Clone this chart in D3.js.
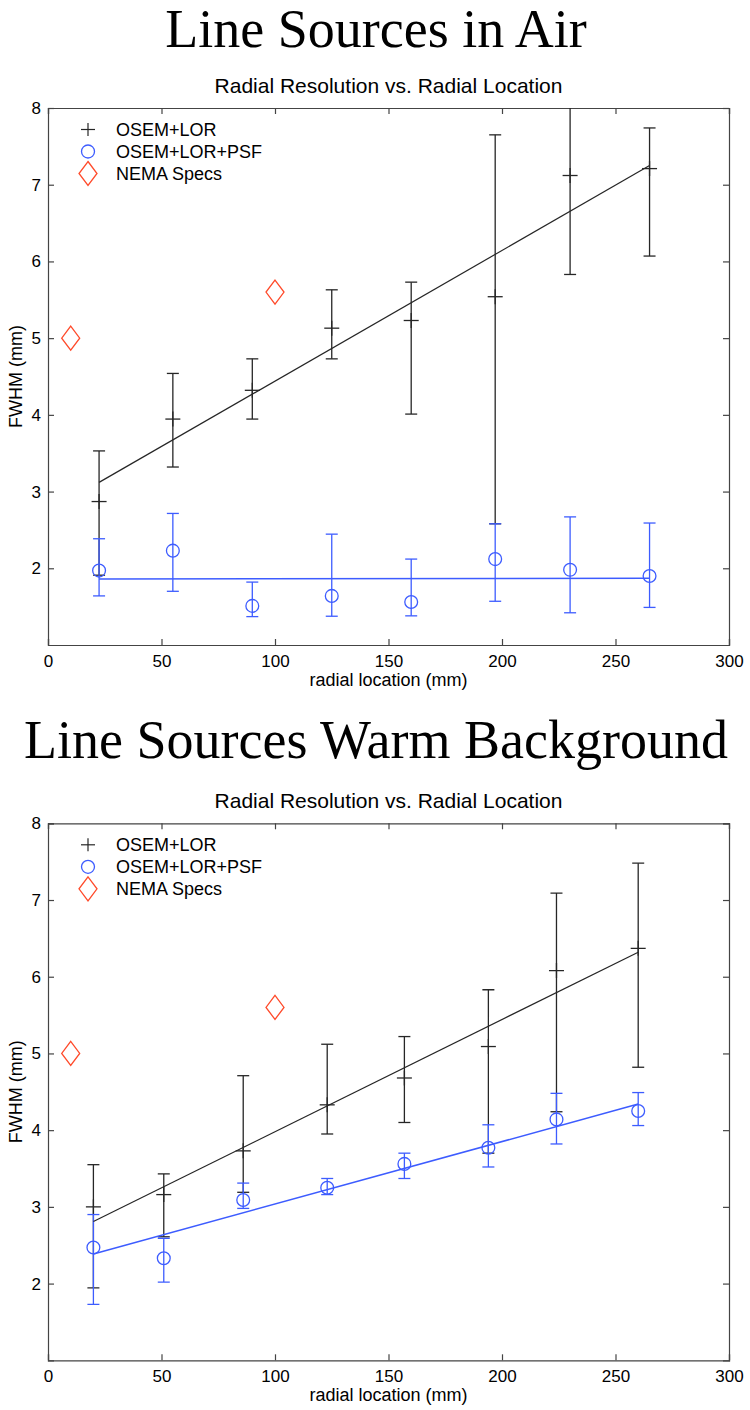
<!DOCTYPE html>
<html>
<head>
<meta charset="utf-8">
<script src="https://cdn.jsdelivr.net/npm/d3@7/dist/d3.min.js"></script>
<style>
  html, body { margin: 0; padding: 0; background: #fff; }
  svg { display: block; }
  text { font-family: "Liberation Sans", Arial, Helvetica, sans-serif; fill: #000; }
</style>
</head>
<body>
<svg id="chart" width="750" height="1410"></svg>
<script>
// ---------- data ----------
const xTicks = [0, 50, 100, 150, 200, 250, 300];
const yTicks = [2, 3, 4, 5, 6, 7, 8];
const legendLabels = ["OSEM+LOR", "OSEM+LOR+PSF", "NEMA Specs"];
const mainTitles = ["Line Sources in Air", "Line Sources Warm Background"];
const subTitle = "Radial Resolution vs. Radial Location";
const xLabel = "radial location (mm)";
const yLabel = "FWHM (mm)";

const nemaX = [10, 100];
const nemaY = [5.0, 5.6];

// Chart 1: line sources in air
const airX      = [22.5, 55, 90, 125, 160, 197, 230, 265];
const airLorY   = [2.87, 3.945, 4.32, 5.13, 5.23, 5.54, 7.12, 7.21];
const airLorLo  = [1.91, 3.32, 3.945, 4.73, 4.01, 2.58, 5.83, 6.07];
const airLorHi  = [3.53, 4.54, 4.73, 5.63, 5.73, 7.65, 8.41, 7.74];
const airPsfY   = [1.97, 2.23, 1.51, 1.64, 1.56, 2.12, 1.98, 1.90];
const airPsfLo  = [1.64, 1.70, 1.37, 1.375, 1.38, 1.57, 1.42, 1.49];
const airPsfHi  = [2.385, 2.715, 1.82, 2.445, 2.12, 2.58, 2.67, 2.59];
const airFitX   = [22.5, 265];
const airLorFit = [3.12, 7.25];
const airPsfFit = [1.86, 1.87];

// Chart 2: line sources, warm background
const warmX      = [20, 51, 86, 123, 157, 194, 224, 260];
const warmLorY   = [3.00, 3.16, 3.73, 4.33, 4.68, 5.09, 6.08, 6.37];
const warmLorLo  = [1.945, 2.61, 3.19, 3.95, 4.10, 3.70, 4.24, 4.82];
const warmLorHi  = [3.55, 3.43, 4.71, 5.12, 5.22, 5.83, 7.09, 7.48];
const warmPsfY   = [2.47, 2.33, 3.09, 3.25, 3.56, 3.77, 4.14, 4.25];
const warmPsfLo  = [1.73, 2.02, 2.98, 3.16, 3.37, 3.52, 3.82, 4.06];
const warmPsfHi  = [2.90, 2.59, 3.31, 3.37, 3.70, 4.07, 4.48, 4.49];
const warmFitX   = [20, 260];
const warmLorFit = [2.81, 6.32];
const warmPsfFit = [2.385, 4.34];

// ---------- style ----------
const BLACK = "#262626";
const BLUE = "#3d5cff";
const RED = "#ff4a2a";
const AXIS = "#444";

const svg = d3.select("#chart");

function drawChart(cfg) {
  const left = 48, right = 729;
  const top = cfg.top, bottom = cfg.top + 537;
  const x = d3.scaleLinear().domain([0, 300]).range([left, right]);
  const y = d3.scaleLinear().domain([1, 8]).range([bottom, top]);

  // main title
  svg.append("text")
    .attr("x", 376).attr("y", cfg.titleY)
    .attr("text-anchor", "middle")
    .style("font-family", "'Liberation Serif', 'Times New Roman', serif")
    .style("font-size", "54px")
    .text(cfg.title);

  // subtitle
  svg.append("text")
    .attr("x", (left + right) / 2).attr("y", top - 15)
    .attr("text-anchor", "middle")
    .style("font-size", "21px")
    .text(subTitle);

  const clipId = "clip" + cfg.id;
  svg.append("clipPath").attr("id", clipId)
    .append("rect").attr("x", left).attr("y", top).attr("width", right - left).attr("height", bottom - top);

  // axes (ticks inward, mirrored)
  const axB = d3.axisBottom(x).tickValues(xTicks).tickSize(-6).tickPadding(10).tickFormat(d3.format("d"));
  const axT = d3.axisTop(x).tickValues(xTicks).tickSize(-6).tickFormat("");
  const axL = d3.axisLeft(y).tickValues(yTicks).tickSize(-6).tickPadding(10).tickFormat(d3.format("d"));
  const axR = d3.axisRight(y).tickValues(yTicks).tickSize(-6).tickFormat("");

  const gB = svg.append("g").attr("transform", `translate(0,${bottom})`).call(axB);
  const gT = svg.append("g").attr("transform", `translate(0,${top})`).call(axT);
  const gL = svg.append("g").attr("transform", `translate(${left},0)`).call(axL);
  const gR = svg.append("g").attr("transform", `translate(${right},0)`).call(axR);
  [gB, gT, gL, gR].forEach(g => {
    g.select(".domain").attr("stroke", AXIS).attr("stroke-width", 1.2);
    g.selectAll(".tick line").attr("stroke", AXIS).attr("stroke-width", 1.2);
    g.selectAll(".tick text").style("font-size", "17px").style("font-family", "'Liberation Sans', Arial, sans-serif").attr("fill", "#000");
  });
  gB.selectAll(".tick text").attr("dy", "0.71em");
  gL.selectAll(".tick text").attr("dx", "3");

  // axis labels
  svg.append("text")
    .attr("x", (left + right) / 2).attr("y", bottom + 41)
    .attr("text-anchor", "middle").style("font-size", "18px")
    .text(xLabel);
  svg.append("text")
    .attr("transform", `translate(22,${(top + bottom) / 2}) rotate(-90)`)
    .attr("text-anchor", "middle").style("font-size", "18px")
    .text(yLabel);

  const plot = svg.append("g").attr("clip-path", `url(#${clipId})`);

  function errorbars(xs, ys, lo, hi, color, marker) {
    const g = plot.append("g").attr("stroke", color).attr("fill", "none").attr("stroke-width", 1.3);
    xs.forEach((xv, i) => {
      const cx = x(xv);
      g.append("line").attr("x1", cx).attr("x2", cx).attr("y1", y(lo[i])).attr("y2", y(hi[i]));
      g.append("line").attr("x1", cx - 6).attr("x2", cx + 6).attr("y1", y(lo[i])).attr("y2", y(lo[i]));
      g.append("line").attr("x1", cx - 6).attr("x2", cx + 6).attr("y1", y(hi[i])).attr("y2", y(hi[i]));
      const cy = y(ys[i]);
      if (marker === "plus") {
        g.append("line").attr("x1", cx - 7.5).attr("x2", cx + 7.5).attr("y1", cy).attr("y2", cy);
        g.append("line").attr("x1", cx).attr("x2", cx).attr("y1", cy - 7.5).attr("y2", cy + 7.5);
      } else {
        g.append("circle").attr("cx", cx).attr("cy", cy).attr("r", 6.4);
      }
    });
  }

  errorbars(cfg.xs, cfg.lorY, cfg.lorLo, cfg.lorHi, BLACK, "plus");
  errorbars(cfg.xs, cfg.psfY, cfg.psfLo, cfg.psfHi, BLUE, "circle");

  const line = d3.line().x(d => x(d[0])).y(d => y(d[1]));
  plot.append("path").datum(cfg.fitX.map((v, i) => [v, cfg.lorFit[i]]))
    .attr("d", line).attr("stroke", BLACK).attr("stroke-width", 1.2).attr("fill", "none");
  plot.append("path").datum(cfg.fitX.map((v, i) => [v, cfg.psfFit[i]]))
    .attr("d", line).attr("stroke", BLUE).attr("stroke-width", 1.5).attr("fill", "none");

  const diamond = (cx, cy) => `M${cx},${cy - 12}L${cx + 9},${cy}L${cx},${cy + 12}L${cx - 9},${cy}Z`;
  nemaX.forEach((xv, i) => {
    plot.append("path").attr("d", diamond(x(xv), y(nemaY[i])))
      .attr("fill", "none").attr("stroke", RED).attr("stroke-width", 1.3);
  });

  // legend
  const lg = svg.append("g");
  const mx = 88, tx = 116;
  const rows = [top + 21.5, top + 43.5, top + 65.5];
  lg.append("line").attr("x1", mx - 7).attr("x2", mx + 7).attr("y1", rows[0]).attr("y2", rows[0]).attr("stroke", BLACK).attr("stroke-width", 1.2);
  lg.append("line").attr("x1", mx).attr("x2", mx).attr("y1", rows[0] - 6.5).attr("y2", rows[0] + 6.5).attr("stroke", BLACK).attr("stroke-width", 1.2);
  lg.append("circle").attr("cx", mx).attr("cy", rows[1]).attr("r", 6.5).attr("fill", "none").attr("stroke", BLUE).attr("stroke-width", 1.3);
  lg.append("path").attr("d", diamond(mx, rows[2])).attr("fill", "none").attr("stroke", RED).attr("stroke-width", 1.3);
  legendLabels.forEach((t, i) => {
    lg.append("text").attr("x", tx).attr("y", rows[i] + 6.5).style("font-size", "18px").text(t);
  });
}

drawChart({
  id: 1, top: 108, titleY: 47, title: mainTitles[0],
  xs: airX, lorY: airLorY, lorLo: airLorLo, lorHi: airLorHi,
  psfY: airPsfY, psfLo: airPsfLo, psfHi: airPsfHi,
  fitX: airFitX, lorFit: airLorFit, psfFit: airPsfFit
});
drawChart({
  id: 2, top: 823.3, titleY: 758, title: mainTitles[1],
  xs: warmX, lorY: warmLorY, lorLo: warmLorLo, lorHi: warmLorHi,
  psfY: warmPsfY, psfLo: warmPsfLo, psfHi: warmPsfHi,
  fitX: warmFitX, lorFit: warmLorFit, psfFit: warmPsfFit
});
</script>
</body>
</html>
